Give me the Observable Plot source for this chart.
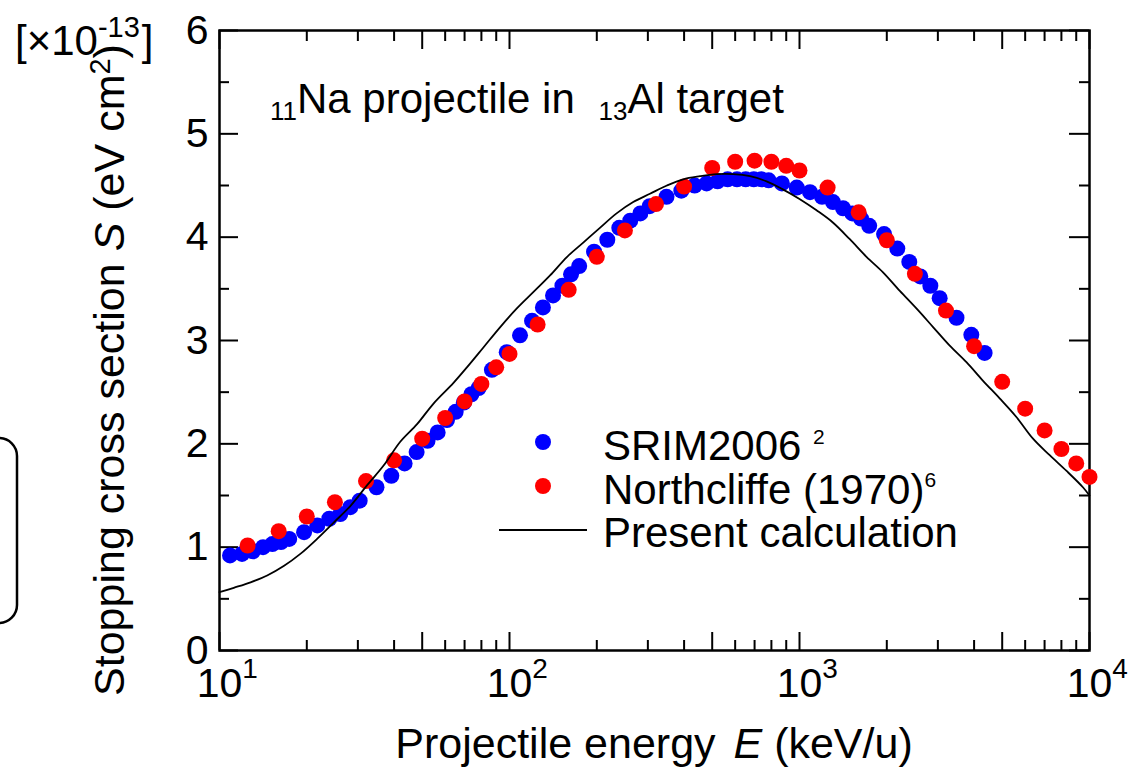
<!DOCTYPE html>
<html>
<head>
<meta charset="utf-8">
<script src="https://cdn.jsdelivr.net/npm/d3@7"></script>
<script src="https://cdn.jsdelivr.net/npm/@observablehq/plot@0.6"></script>
<style>
  html, body { margin: 0; padding: 0; background: #fff; }
  #chart { width: 1142px; height: 770px; }
  text { white-space: pre; }
</style>
</head>
<body>
<div id="chart"></div>
<script>
// SRIM2006 stopping cross sections (energy in keV/u, S in 1e-13 eV cm^2)
const srimE = [10.87, 11.96, 13.04, 14.13, 15.22, 16.30, 17.39, 19.57, 21.74, 23.91, 26.09, 28.26, 30.43,
  34.78, 39.13, 43.48, 47.83, 52.17, 56.52, 60.87, 65.22, 69.57, 73.91, 78.26,
  86.96, 97.83, 108.7, 119.6, 130.4, 141.3, 152.2, 163.0, 173.9,
  195.7, 217.4, 239.1, 260.9, 282.6, 304.3,
  347.8, 391.3, 434.8, 478.3, 521.7, 565.2, 608.7, 652.2, 695.7, 739.1, 782.6,
  869.6, 978.3, 1087, 1196, 1304, 1413, 1522, 1630, 1739,
  1957, 2174, 2391, 2609, 2826, 3043, 3478, 3913, 4348];
const srimS = [0.92, 0.935, 0.96, 1.00, 1.03, 1.05, 1.08, 1.145, 1.21, 1.275, 1.32, 1.387, 1.45,
  1.58, 1.69, 1.81, 1.92, 2.03, 2.11, 2.23, 2.31, 2.40, 2.48, 2.54,
  2.716, 2.887, 3.05, 3.19, 3.32, 3.436, 3.53, 3.64, 3.72,
  3.86, 3.975, 4.09, 4.16, 4.23, 4.30,
  4.39, 4.45, 4.50, 4.52, 4.54, 4.56, 4.56, 4.56, 4.56, 4.56, 4.55,
  4.52, 4.48, 4.435, 4.39, 4.34, 4.28, 4.23, 4.18, 4.11,
  4.03, 3.89, 3.76, 3.62, 3.53, 3.41, 3.22, 3.055, 2.88];

// Northcliffe (1970) tabulated values
const ncE = [12.5, 16, 20, 25, 32, 40, 50, 60, 70, 80, 90, 100, 125, 160, 200, 250, 320, 400,
  500, 600, 700, 800, 900, 1000, 1250, 1600, 2000, 2500, 3200, 4000, 5000, 6000, 7000, 8000, 9000, 10000];
const ncS = [1.016, 1.155, 1.297, 1.435, 1.64, 1.84, 2.05, 2.25, 2.41, 2.58, 2.74, 2.87, 3.155, 3.49, 3.81, 4.065, 4.32, 4.49,
  4.67, 4.73, 4.74, 4.73, 4.69, 4.645, 4.48, 4.24, 3.97, 3.645, 3.29, 2.945, 2.60, 2.34, 2.13, 1.95, 1.81, 1.68];

// Present calculation
const calcE = [10, 11.2, 12.8, 14.6, 16.7, 19.0, 21.7, 24.8, 28.3, 32.3,
  36.8, 42.0, 48.0, 54.7, 64.1, 71.3, 81.4, 92.9, 106, 121,
  138, 158, 180, 205, 234, 267, 305, 349, 397, 454,
  518, 591, 675, 770, 879, 1000, 1145, 1306, 1491, 1702,
  1941, 2218, 2530, 2888, 3296, 3764, 4295, 4900, 5595, 6385,
  7290, 8318, 9490, 10000];
const calcS = [0.564, 0.607, 0.66, 0.726, 0.82, 0.935, 1.08, 1.24, 1.40, 1.60,
  1.79, 2.02, 2.19, 2.39, 2.59, 2.74, 2.935, 3.13, 3.31, 3.47,
  3.63, 3.81, 3.95, 4.09, 4.23, 4.34, 4.42, 4.50, 4.56, 4.59,
  4.61, 4.61, 4.59, 4.54, 4.46, 4.37, 4.26, 4.14, 3.98, 3.81,
  3.66, 3.48, 3.31, 3.13, 2.95, 2.79, 2.61, 2.44, 2.26, 2.05,
  1.89, 1.74, 1.58, 1.50];

// Axis ticks
const xDecades = [10, 100, 1000, 10000];
const xHalfDecades = [50, 500, 5000];
const xMinor = [20, 30, 40, 60, 70, 80, 90, 200, 300, 400, 600, 700, 800, 900,
  2000, 3000, 4000, 6000, 7000, 8000, 9000];
const yMajor = [0, 1, 2, 3, 4, 5, 6];
const yMinor = [0.5, 1.5, 2.5, 3.5, 4.5, 5.5];

const W = 1142, H = 770;
const M = {top: 30, right: 53, bottom: 120, left: 219};
const innerW = W - M.left - M.right;
const innerH = H - M.top - M.bottom;
const FONT = '"Liberation Sans", Arial, Helvetica, sans-serif';
const BIG = 42;

const srim = srimE.map((E, i) => ({E, S: srimS[i]}));
const nc = ncE.map((E, i) => ({E, S: ncS[i]}));
const calc = calcE.map((E, i) => ({E, S: calcS[i]}));

const xLong = xDecades.concat(xHalfDecades);
const tickStyle = {stroke: "black", strokeWidth: 2};

const svg = Plot.plot({
  width: W,
  height: H,
  marginTop: M.top,
  marginRight: M.right,
  marginBottom: M.bottom,
  marginLeft: M.left,
  style: {fontFamily: FONT, fontSize: "41px", color: "black", background: "white", overflow: "visible"},
  x: {type: "log", domain: [10, 10000]},
  y: {domain: [0, 6]},
  marks: [
    // inward ticks on all four sides
    Plot.tickX(xLong, {x: d => d, insetTop: innerH - 18, ...tickStyle}),
    Plot.tickX(xMinor, {x: d => d, insetTop: innerH - 10, ...tickStyle}),
    Plot.tickX(xLong, {x: d => d, insetBottom: innerH - 19, ...tickStyle}),
    Plot.tickX(xMinor, {x: d => d, insetBottom: innerH - 11, ...tickStyle}),
    Plot.tickY(yMajor, {y: d => d, insetRight: innerW - 19, ...tickStyle}),
    Plot.tickY(yMinor, {y: d => d, insetRight: innerW - 10, ...tickStyle}),
    Plot.tickY(yMajor, {y: d => d, insetLeft: innerW - 20, ...tickStyle}),
    Plot.tickY(yMinor, {y: d => d, insetLeft: innerW - 10, ...tickStyle}),
    Plot.axisX({ticks: xDecades, tickSize: 0, tickPadding: 17, label: null,
      tickFormat: d => `10^${Math.round(Math.log10(d))}`}),
    Plot.axisY({ticks: yMajor, tickSize: 0, tickPadding: 11, label: null, tickFormat: d => String(d)}),
    Plot.frame({stroke: "black", strokeWidth: 2.5}),
    Plot.dot(srim, {x: "E", y: "S", r: 8, fill: "#0000ff"}),
    Plot.dot(nc, {x: "E", y: "S", r: 8, fill: "#ff0000"}),
    Plot.line(calc, {x: "E", y: "S", stroke: "black", strokeWidth: 1.8, curve: "catmull-rom"})
  ]
});

document.getElementById("chart").appendChild(svg);
const root = d3.select(svg);

// Powers of ten on the x axis: base centred on the tick, exponent raised
root.selectAll('g[aria-label="x-axis tick label"] text').each(function () {
  const [base, exp] = this.textContent.split("^");
  const t = d3.select(this);
  t.text(null).attr("text-anchor", "start");
  const b = t.append("tspan").text(base);
  const len = b.node().getComputedTextLength();
  b.attr("dx", -len / 2);
  t.append("tspan").attr("font-size", 28).attr("dy", -19).text(exp);
});

// Rich text helper: parts may change size, style and baseline
const overlay = root.append("g").attr("font-family", FONT).attr("fill", "black");
function richText(x, y, parts, {size = BIG, anchor = "start", transform = null} = {}) {
  const t = overlay.append("text")
    .attr("font-size", size)
    .attr("text-anchor", anchor);
  if (transform) t.attr("transform", transform);
  else t.attr("x", x).attr("y", y);
  for (const p of parts) {
    const s = t.append("tspan").text(p.t);
    if (p.size) s.attr("font-size", p.size);
    if (p.dy) s.attr("dy", p.dy);
    if (p.dx) s.attr("dx", p.dx);
    if (p.italic) s.attr("font-style", "italic");
  }
  return t;
}

// Scale multiplier for the y axis
richText(15, 55, [{t: "[\u00d710"}, {t: "-13", size: 29, dy: -18}, {t: "]", dy: 18, dx: 2}], {size: 42});

// Panel title
richText(270, 113, [
  {t: "11", size: 26, dy: 7}, {t: "Na projectile in ", dy: -7},
  {t: "13", size: 26, dy: 7, dx: 12}, {t: "Al target", dy: -7}
]);

// Axis titles
richText(654, 758, [{t: "Projectile energy "}, {t: "E", italic: true, dx: 6}, {t: " (keV/u)"}], {anchor: "middle", size: 43});
richText(0, 0, [
  {t: "Stopping cross section "}, {t: "S", italic: true}, {t: " (eV cm"},
  {t: "2", size: 29, dy: -14}, {t: ")", dy: 14}
], {anchor: "middle", size: 43, transform: "translate(124,370) rotate(-90)"});

// Legend
overlay.append("circle").attr("cx", 543).attr("cy", 442).attr("r", 8).attr("fill", "#0000ff");
overlay.append("circle").attr("cx", 543).attr("cy", 486).attr("r", 8).attr("fill", "#ff0000");
overlay.append("line").attr("x1", 499).attr("x2", 587).attr("y1", 530).attr("y2", 530)
  .attr("stroke", "black").attr("stroke-width", 1.8);
richText(603, 460, [{t: "SRIM2006 "}, {t: "2", size: 21, dy: -16}]);
richText(603, 504, [{t: "Northcliffe (1970)"}, {t: "6", size: 21, dy: -17}]);
richText(603, 547, [{t: "Present calculation"}]);

// Rounded bracket at the left edge
overlay.append("path")
  .attr("d", "M-1,438 A18,18 0 0 1 17,456 V605 A18,18 0 0 1 -1,623")
  .attr("fill", "none").attr("stroke", "black").attr("stroke-width", 2.5);
</script>
</body>
</html>
